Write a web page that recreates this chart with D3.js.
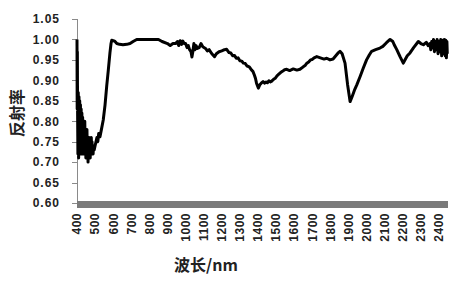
<!DOCTYPE html>
<html>
<head>
<meta charset="utf-8">
<script src="https://cdn.jsdelivr.net/npm/d3@7"></script>
<style>
  body { margin: 0; background: #fff; }
  svg { display: block; }
  .tick-label { font-family: "Liberation Sans", Arial, sans-serif; font-weight: bold; font-size: 12px; fill: #222; }
</style>
</head>
<body>
<div id="chart"></div>
<script>
// Chart size
var width = 463;
var height = 289;

// Axis ticks
var yTicks = [0.60, 0.65, 0.70, 0.75, 0.80, 0.85, 0.90, 0.95, 1.00, 1.05];
var xTicks = [400, 500, 600, 700, 800, 900, 1000, 1100, 1200, 1300, 1400, 1500, 1600, 1700, 1800, 1900, 2000, 2100, 2200, 2300, 2400];

// Spectrum: wavelength (nm) and reflectance
var wavelength = [
  400, 401, 402, 403, 405, 407, 409, 411, 413, 415, 417, 419, 421, 423, 425, 427, 429, 431, 433, 435,
  437, 439, 441, 443, 445, 447, 449, 451, 453, 455, 457, 459, 461, 463, 465, 467, 469, 471, 473, 475,
  477, 479, 481, 483, 485, 487, 489, 491, 495, 500, 505, 510, 515, 520, 527, 535, 545, 555, 564, 573,
  582, 588, 592, 600, 610, 620, 635, 654, 675, 693, 710, 730, 760, 800, 830, 850, 870, 900, 915, 930,
  945, 955, 962, 970, 978, 985, 992, 1000, 1008, 1015, 1022, 1030, 1035, 1040, 1046, 1052, 1058, 1065, 1075, 1085,
  1095, 1110, 1120, 1130, 1145, 1160, 1170, 1185, 1200, 1215, 1227, 1240, 1250, 1260, 1270, 1280, 1290, 1300, 1310, 1320,
  1330, 1340, 1352, 1365, 1372, 1380, 1386, 1392, 1402, 1410, 1418, 1428, 1437, 1445, 1452, 1460, 1468, 1476, 1485, 1495,
  1505, 1515, 1525, 1535, 1547, 1559, 1575, 1595, 1615, 1632, 1650, 1660, 1670, 1680, 1690, 1700, 1710, 1725, 1745,
  1765, 1780, 1798, 1815, 1830, 1845, 1853, 1865, 1881, 1895, 1909, 1920, 1935, 1946, 1965, 1982, 2000, 2015, 2028, 2050,
  2074, 2090, 2110, 2130, 2145, 2155, 2167, 2185, 2203, 2215, 2225, 2240, 2260, 2286, 2300, 2314, 2330, 2340, 2350, 2355,
  2360, 2365, 2370, 2375, 2380, 2385, 2390, 2395, 2400, 2405, 2410, 2415, 2420, 2425, 2430, 2435, 2438, 2441, 2444, 2446
];
var reflectance = [
  1.00, 0.83, 0.97, 0.84, 0.72, 0.87, 0.71, 0.86, 0.73, 0.85, 0.72, 0.84, 0.74, 0.83, 0.72, 0.82, 0.73, 0.81, 0.75, 0.80,
  0.72, 0.79, 0.73, 0.80, 0.74, 0.78, 0.71, 0.77, 0.74, 0.78, 0.72, 0.76, 0.70, 0.75, 0.73, 0.76, 0.72, 0.75, 0.71, 0.74,
  0.73, 0.76, 0.72, 0.75, 0.73, 0.74, 0.72, 0.74, 0.73, 0.74, 0.75, 0.76, 0.75, 0.77, 0.762, 0.78, 0.803, 0.84, 0.885, 0.925,
  0.967, 0.99, 0.998, 0.997, 0.995, 0.99, 0.988, 0.987, 0.988, 0.99, 0.995, 1.00, 1.00, 1.00, 1.00, 1.00, 0.995, 0.99, 0.985, 0.99,
  0.99, 0.995, 0.985, 0.997, 0.988, 0.996, 0.99, 0.99, 0.98, 0.985, 0.975, 0.97, 0.957, 0.97, 0.99, 0.975, 0.985, 0.978, 0.98, 0.99,
  0.982, 0.978, 0.972, 0.975, 0.965, 0.958, 0.965, 0.97, 0.972, 0.975, 0.976, 0.968, 0.967, 0.96, 0.961, 0.954, 0.955, 0.948, 0.947, 0.942,
  0.941, 0.935, 0.933, 0.925, 0.922, 0.913, 0.905, 0.893, 0.881, 0.889, 0.893, 0.897, 0.893, 0.896, 0.894, 0.899, 0.896, 0.898, 0.902, 0.905,
  0.911, 0.915, 0.919, 0.922, 0.926, 0.927, 0.924, 0.928, 0.925, 0.927, 0.933, 0.936, 0.942, 0.945, 0.95, 0.951, 0.955, 0.958, 0.955,
  0.952, 0.954, 0.95, 0.952, 0.96, 0.968, 0.971, 0.965, 0.942, 0.89, 0.848, 0.86, 0.878, 0.889, 0.91, 0.93, 0.95, 0.962, 0.971, 0.975,
  0.979, 0.983, 0.992, 1.00, 0.995, 0.985, 0.975, 0.958, 0.942, 0.952, 0.96, 0.967, 0.98, 0.995, 0.99, 0.987, 0.993, 0.985, 0.99, 0.975,
  0.995, 0.98, 1.00, 0.97, 0.995, 0.975, 1.00, 0.965, 0.995, 0.97, 1.00, 0.96, 0.998, 0.965, 1.00, 0.96, 0.998, 0.955, 0.995, 0.965
];

var data = wavelength.map(function(w, i) { return {w: w, r: reflectance[i]}; });

var svg = d3.select("#chart")
  .append("svg")
  .attr("width", width)
  .attr("height", height);

// Scales (plot box)
var x = d3.scaleLinear().domain([400, 2450]).range([77, 448]);
var y = d3.scaleLinear().domain([0.60, 1.05]).range([203, 19]);

// Y axis line and ticks
svg.append("line")
  .attr("x1", 77.5).attr("x2", 77.5)
  .attr("y1", y(1.05)).attr("y2", y(0.60))
  .attr("stroke", "#8a8a8a")
  .attr("stroke-width", 1);

svg.selectAll(".ytick")
  .data(yTicks)
  .enter()
  .append("line")
  .attr("class", "ytick")
  .attr("x1", 72).attr("x2", 77.5)
  .attr("y1", function(d) { return Math.round(y(d)) + 0.5; })
  .attr("y2", function(d) { return Math.round(y(d)) + 0.5; })
  .attr("stroke", "#8a8a8a");

svg.selectAll(".ylabel")
  .data(yTicks)
  .enter()
  .append("text")
  .attr("class", "tick-label")
  .attr("x", 60)
  .attr("y", function(d) { return y(d); })
  .attr("dy", "0.36em")
  .attr("text-anchor", "end")
  .style("letter-spacing", "1px")
  .text(function(d) { return d.toFixed(2); });

// The category axis: dense tick marks make a grey band
svg.append("rect")
  .attr("x", x.range()[0])
  .attr("y", 201)
  .attr("width", x.range()[1] - x.range()[0])
  .attr("height", 7)
  .attr("fill", "#7a7a7a");

// X tick labels, rotated
svg.selectAll(".xlabel")
  .data(xTicks)
  .enter()
  .append("text")
  .attr("class", "tick-label")
  .attr("transform", function(d) { return "translate(" + x(d) + ",213) rotate(-90)"; })
  .attr("dy", "0.36em")
  .attr("text-anchor", "end")
  .style("letter-spacing", "0.5px")
  .text(function(d) { return d; });

// Spectrum line
var line = d3.line()
  .x(function(d) { return x(d.w); })
  .y(function(d) { return y(d.r); });

svg.append("path")
  .datum(data)
  .attr("d", line)
  .attr("fill", "none")
  .attr("stroke", "#000")
  .attr("stroke-width", 3)
  .attr("stroke-linejoin", "round");

// Axis titles
svg.append("text")
  .attr("transform", "translate(17,113) rotate(-90)")
  .attr("dy", "0.36em")
  .attr("text-anchor", "middle")
  .style("font-family", "'Noto Sans CJK SC', sans-serif")
  .style("font-weight", "bold")
  .style("font-size", "16px")
  .style("fill", "#222")
  .text("反射率");

svg.append("text")
  .attr("x", 206)
  .attr("y", 271)
  .attr("text-anchor", "middle")
  .style("font-family", "'Noto Sans CJK SC', sans-serif")
  .style("font-weight", "bold")
  .style("font-size", "16px")
  .style("fill", "#222")
  .text("波长/nm");
</script>
</body>
</html>
